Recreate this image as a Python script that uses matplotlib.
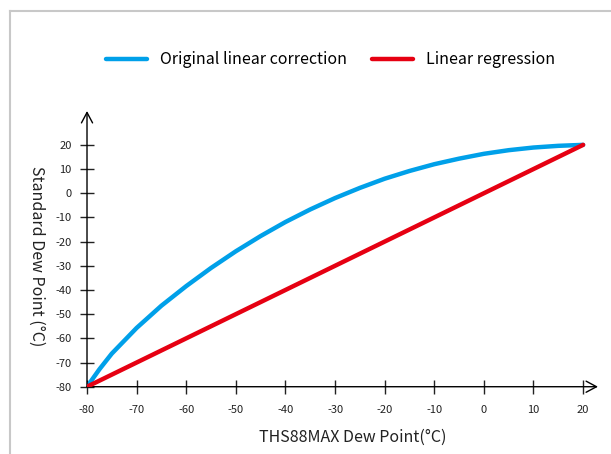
import matplotlib.pyplot as plt
from matplotlib.lines import Line2D
import numpy as np

plt.rcParams['font.family'] = ['Noto Sans CJK SC', 'DejaVu Sans']
plt.rcParams['axes.unicode_minus'] = False

# values
x_blue = [-80, -77.5, -75, -70, -65, -60, -55, -50, -45, -40, -35, -30,
          -25, -20, -15, -10, -5, 0, 5, 10, 15, 20]
y_blue = [-80, -72.8, -66.3, -55.7, -46.5, -38.4, -30.9, -24.0, -17.7, -11.9,
          -6.7, -2.0, 2.2, 6.0, 9.2, 12.0, 14.3, 16.3, 17.8, 18.9, 19.6, 20.0]
x_red = [-80, 20]
y_red = [-80, 20]
xticks = list(range(-80, 21, 10))
yticks = list(range(-80, 21, 10))

blue = '#00a0e9'
red = '#e60012'

fig = plt.figure(figsize=(6.11, 4.54), dpi=100)
ax = fig.add_axes([0.1424, 0.1482, 0.8363, 0.6073])

ax.plot(x_blue, y_blue, color=blue, lw=3.2, solid_capstyle='round',
        solid_joinstyle='round', label='Original linear correction', zorder=3)
ax.plot(x_red, y_red, color=red, lw=3.2, solid_capstyle='round',
        label='Linear regression', zorder=4)

ax.set_xlim(-80, 23)
ax.set_ylim(-80, 34)
for s in ['top', 'right', 'left', 'bottom']:
    ax.spines[s].set_visible(False)

# axes with open arrow heads
ax.annotate('', xy=(1, 0), xytext=(0, 0), xycoords='axes fraction',
            arrowprops=dict(arrowstyle='->,head_length=0.75,head_width=0.4',
                            lw=1, color='black', shrinkA=0, shrinkB=0))
ax.annotate('', xy=(0, 1), xytext=(0, 0), xycoords='axes fraction',
            arrowprops=dict(arrowstyle='->,head_length=0.75,head_width=0.4',
                            lw=1, color='black', shrinkA=0, shrinkB=0))

ax.set_xticks(xticks)
ax.set_yticks(yticks)
ax.tick_params(axis='both', direction='inout', length=10, width=1,
               color='#222222', labelsize=8, labelcolor='#222222')
ax.tick_params(axis='x', pad=8)
ax.tick_params(axis='y', pad=6)

fig.text(0.578, 0.037, 'THS88MAX Dew Point(°C)', fontsize=11.5, ha='center',
         va='center', color='#222222')
fig.text(0.06, 0.435, 'Standard Dew Point (°C)', fontsize=11.5, ha='center',
         va='center', rotation=-90, color='#222222')

fig.legend(loc='center', bbox_to_anchor=(0.541, 0.868), ncol=2, frameon=False,
           fontsize=11.5, handlelength=2.6, columnspacing=1.55, handletextpad=0.8)

# light frame
fig.add_artist(Line2D([10 / 611, 10 / 611], [0, 1 - 11 / 454], color='#c8c8c8', lw=1.5))
fig.add_artist(Line2D([10 / 611, 1], [1 - 11 / 454, 1 - 11 / 454], color='#c8c8c8', lw=1.5))

fig.savefig('out.png', dpi=100)
